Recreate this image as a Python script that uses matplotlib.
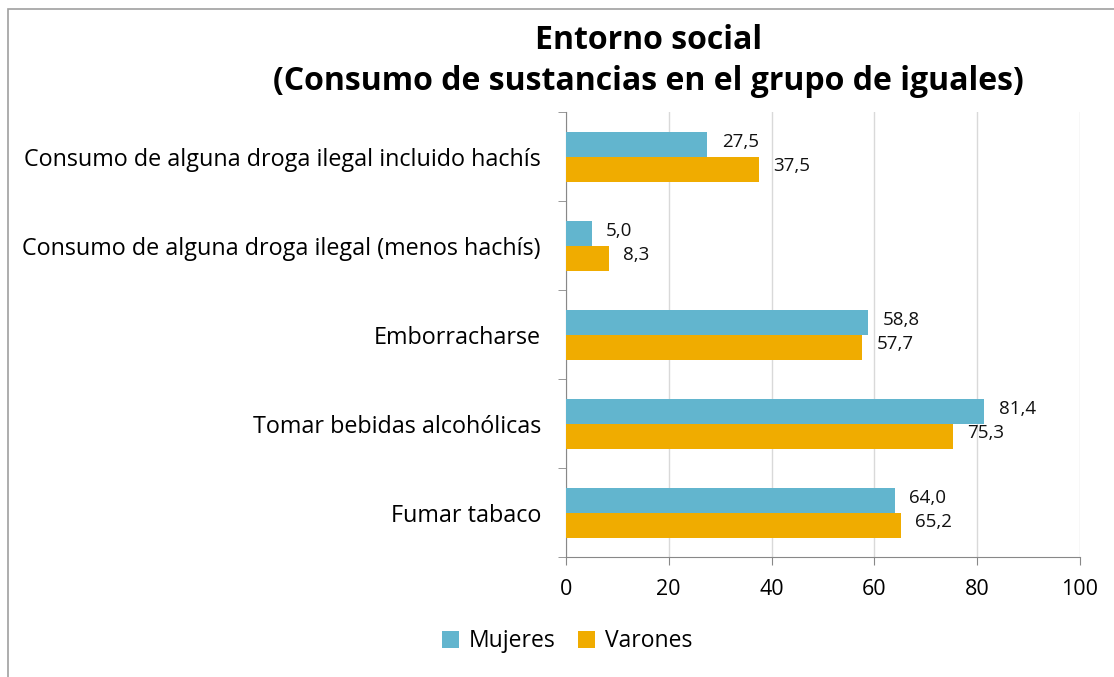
import matplotlib
matplotlib.use("Agg")
import matplotlib.pyplot as plt
import numpy as np
from matplotlib.patches import Rectangle

categorias = ["Fumar tabaco",
              "Tomar bebidas alcohólicas",
              "Emborracharse",
              "Consumo de alguna droga ilegal (menos hachís)",
              "Consumo de alguna droga ilegal incluido hachís"]
mujeres = [64.0, 81.4, 58.8, 5.0, 27.5]
varones = [65.2, 75.3, 57.7, 8.3, 37.5]
xticks = [0, 20, 40, 60, 80, 100]

c_muj = "#62B5CE"
c_var = "#F0AC00"

plt.rcParams["font.family"] = ["Open Sans", "DejaVu Sans"]

fig = plt.figure(figsize=(11.14, 6.77), dpi=100)
ax = fig.add_axes([0.508, 0.177, 0.4614, 0.6573])

y = np.arange(len(categorias))
h = 0.28
b1 = ax.barh(y + h / 2, mujeres, height=h, color=c_muj, label="Mujeres", zorder=3)
b2 = ax.barh(y - h / 2, varones, height=h, color=c_var, label="Varones", zorder=3)

for bars, vals in ((b1, mujeres), (b2, varones)):
    for bar, v in zip(bars, vals):
        ax.text(v + 2.8, bar.get_y() + bar.get_height() / 2 + 0.03,
                f"{v:.1f}".replace(".", ","), va="center", ha="left",
                fontsize=13.5, color="#111111")

ax.set_xlim(0, 100)
ax.set_ylim(-0.5, len(categorias) - 0.5)
ax.set_xticks(xticks)
ax.set_xticklabels([str(t) for t in xticks], fontsize=15.5)
ax.set_yticks(y)
ax.set_yticklabels(categorias, fontsize=16.8)
ax.set_yticks(np.arange(-0.5, len(categorias), 1), minor=True)
ax.tick_params(axis="y", which="major", length=0, pad=18)
ax.tick_params(axis="y", which="minor", length=6, color="#888888")
ax.tick_params(axis="x", length=6, color="#888888", pad=10)
ax.grid(axis="x", color="#D9D9D9", linewidth=1, zorder=0)
for s in ("top", "right"):
    ax.spines[s].set_visible(False)
for s in ("left", "bottom"):
    ax.spines[s].set_color("#888888")

fig.text(0.582, 0.91, "Entorno social\n(Consumo de sustancias en el grupo de iguales)",
         ha="center", va="center", fontsize=23, fontweight="bold", linespacing=1.3)

fig.legend(handles=[b1, b2], loc="center", bbox_to_anchor=(0.509, 0.053), ncol=2,
           frameon=False, fontsize=16.5, handlelength=0.75, handleheight=0.75,
           handletextpad=0.4, columnspacing=1.0)

fig.patches.append(Rectangle((0.0072, -0.1), 1.2, 0.9867 + 0.1, transform=fig.transFigure,
                             fill=False, edgecolor="#A0A0A0", linewidth=1.2))

fig.savefig("out.png", dpi=100)
